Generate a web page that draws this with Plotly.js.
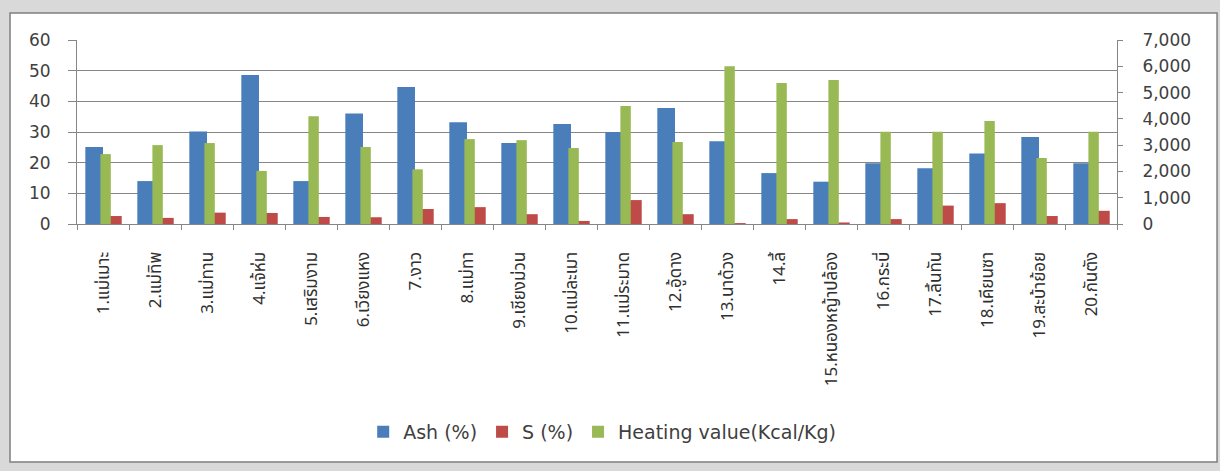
<!DOCTYPE html>
<html>
<head>
<meta charset="utf-8">
<script src="https://cdn.plot.ly/plotly-3.0.1.min.js"></script>
<style>
html,body{margin:0;padding:0;background:#d9d9d9;}
#chart{width:1220px;height:471px;}
</style>
</head>
<body>
<div id="chart"></div>
<script>
const categories = ["1.แม่เมาะ","2.แม่ทิพ","3.แม่ทาน","4.แจ้ห่ม","5.เสริมงาม","6.เวียงแหง","7.งาว","8.แม่ทา","9.เชียงม่วน","10.แม่ละเมา","11.แม่ระมาด","12.อู้ดาง","13.นาด้วง","14.ลี้","15.หนองหญ้าปล้อง","16.กระบี่","17.ลิ้นทัน","18.เคียนซา","19.สะบ้าย้อย","20.กันตัง"];
const ash = [25.1, 14.0, 30.2, 48.6, 14.0, 36.0, 44.7, 33.2, 26.4, 32.6, 30.0, 37.8, 27.0, 16.6, 13.8, 19.8, 18.2, 23.0, 28.4, 19.8];
const sulfur = [2.6, 2.0, 3.7, 3.6, 2.3, 2.2, 4.9, 5.5, 3.2, 1.0, 7.8, 3.2, 0.3, 1.6, 0.5, 1.6, 6.0, 6.8, 2.6, 4.3];
const heating = [2660, 3000, 3080, 2020, 4100, 2930, 2080, 3230, 3190, 2890, 4490, 3120, 6000, 5360, 5475, 3510, 3510, 3920, 2510, 3510];
const leftTicks = [0, 10, 20, 30, 40, 50, 60];
const rightTicks = [0, 1000, 2000, 3000, 4000, 5000, 6000, 7000];

const tickFont = {family: "'DejaVu Sans', sans-serif", size: 17, color: "#404040"};

const traces = [
  {type: "bar", name: "Ash (%)", x: categories, y: ash, yaxis: "y",
   marker: {color: "#4a7ebb"}, offset: -0.34, width: 0.34},
  {type: "bar", name: "S (%)", x: categories, y: sulfur, yaxis: "y",
   marker: {color: "#be4b48"}, offset: 0.0, width: 0.36},
  {type: "bar", name: "Heating value(Kcal/Kg)", x: categories, y: heating, yaxis: "y2",
   marker: {color: "#98b954"}, offset: -0.05, width: 0.2}
];

const layout = {
  width: 1220, height: 471,
  margin: {l: 77, r: 103, t: 40, b: 247},
  paper_bgcolor: "#d9d9d9",
  plot_bgcolor: "rgba(0,0,0,0)",
  barmode: "overlay",
  showlegend: true,
  legend: {orientation: "h", x: 0.505, xanchor: "center", y: -1.13, yanchor: "middle",
           font: {family: "'DejaVu Sans', sans-serif", size: 19, color: "#404040"},
           bgcolor: "rgba(0,0,0,0)", itemwidth: 30, tracegroupgap: 0},
  xaxis: {type: "category", showline: true, linecolor: "#868686", linewidth: 1,
          ticks: "outside", tickson: "boundaries", ticklen: 5, tickcolor: "#868686",
          tickangle: -90, ticklabelstandoff: 20,
          tickfont: {family: "'Noto Sans Thai', 'Noto Serif Thai', serif", size: 17, color: "#303030"},
          showgrid: false, fixedrange: true},
  yaxis: {range: [0, 60], tickvals: leftTicks, ticktext: leftTicks.map(String),
          showline: true, linecolor: "#868686", linewidth: 1,
          ticks: "outside", ticklen: 8, tickcolor: "#868686", ticklabelstandoff: 14,
          showgrid: true, gridcolor: "#868686", gridwidth: 1, zeroline: false,
          tickfont: tickFont},
  yaxis2: {range: [0, 7000], overlaying: "y", side: "right",
           tickvals: rightTicks, ticktext: rightTicks.map(v => v.toLocaleString("en-US")),
           showline: true, linecolor: "#868686", linewidth: 1,
           ticks: "outside", ticklen: 5, tickcolor: "#868686", ticklabelstandoff: 16,
           showgrid: false, zeroline: false, tickfont: tickFont},
  shapes: [{type: "rect", xref: "paper", yref: "paper", layer: "below",
            x0: -0.0644, x1: 1.0962, y0: -1.2935, y1: 1.1467,
            fillcolor: "#ffffff", line: {color: "#7f7f7f", width: 1.5}}]
};

Plotly.newPlot("chart", traces, layout, {displayModeBar: false, staticPlot: true});
</script>
</body>
</html>
